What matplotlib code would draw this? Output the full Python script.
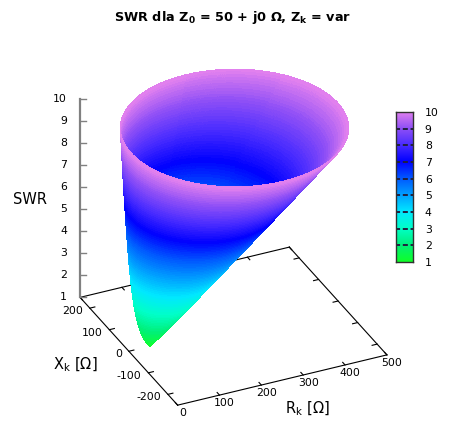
import numpy as np
import matplotlib
matplotlib.use("Agg")
import matplotlib.pyplot as plt
from matplotlib.colors import LinearSegmentedColormap
from mpl_toolkits.mplot3d import proj3d

plt.rcParams['font.family'] = ['DejaVu Sans']
plt.rcParams['mathtext.default'] = 'regular'

# line impedance and plotted SWR range
Z0 = 50.0
swr_min, swr_max = 1, 10

# axis ranges and ticks
r_lim = (0, 500)
x_lim = (-250, 250)
r_ticks = [0, 100, 200, 300, 400, 500]
x_ticks = [-200, -100, 0, 100, 200]
z_ticks = [1, 2, 3, 4, 5, 6, 7, 8, 9, 10]

cb_levels = [1, 2, 3, 4, 5, 6, 7, 8, 9, 10]
cb_colors = ["#10ff28", "#00f078", "#00ffc8", "#00e8ff", "#00a0ff",
             "#0058ff", "#0000ff", "#4a2cff", "#9050f6", "#e482ee"]

title = r"SWR dla $\mathbf{Z_0}$ = 50 + j0 Ω, $\mathbf{Z_k}$ = var"

cmap = LinearSegmentedColormap.from_list(
    "swr", [((v - swr_min) / (swr_max - swr_min), c) for v, c in zip(cb_levels, cb_colors)])

# surface: every SWR value is a circle in the Zk plane
s = np.linspace(swr_min, swr_max, 100)
phi = np.linspace(0, 2 * np.pi, 361)
S, PHI = np.meshgrid(s, phi)
g = (S - 1) / (S + 1)
centre = Z0 * (1 + g**2) / (1 - g**2)
radius = 2 * Z0 * g / (1 - g**2)
R = centre + radius * np.cos(PHI)
X = radius * np.sin(PHI)

W, H = 453, 434
fig = plt.figure(figsize=(W / 100, H / 100), dpi=100)
ax = fig.add_axes([0, 0, 1, 1], projection='3d', proj_type='ortho', computed_zorder=False)
ax.view_init(elev=31, azim=-115)
ax.set_box_aspect((1, 1, 1))
ax.set_xlim(*r_lim)
ax.set_ylim(*x_lim)
ax.set_zlim(swr_min, swr_max)
ax.set_axis_off()

# base frame, back edge goes under the surface
r0, r1 = r_lim
x0, x1 = x_lim
zb = swr_min
ax.plot([r0, r1], [x1, x1], [zb, zb], color='black', lw=0.8, zorder=1)
for t in r_ticks:
    ax.plot([t, t], [x1, x1 - 12], [zb, zb], color='black', lw=0.8, zorder=1)

ax.plot_surface(R, X, S, cmap=cmap, vmin=swr_min, vmax=swr_max, rstride=1, cstride=1,
                linewidth=0, antialiased=False, shade=False, zorder=2)

ax.plot([r0, r1], [x0, x0], [zb, zb], color='black', lw=0.8, zorder=3)
ax.plot([r0, r0], [x0, x1], [zb, zb], color='black', lw=0.8, zorder=3)
ax.plot([r1, r1], [x0, x1], [zb, zb], color='black', lw=0.8, zorder=3)
for t in r_ticks:
    ax.plot([t, t], [x0, x0 + 12], [zb, zb], color='black', lw=0.8, zorder=3)
for t in x_ticks:
    ax.plot([r0, r0 + 12], [t, t], [zb, zb], color='black', lw=0.8, zorder=3)
    ax.plot([r1, r1 - 12], [t, t], [zb, zb], color='black', lw=0.8, zorder=3)

# fit the projected box onto the reference corners
def to_px(r, x, z):
    xs, ys, _ = proj3d.proj_transform(r, x, z, ax.get_proj())
    return ax.transData.transform((xs, ys))

corners = [(r0, x0, zb), (r1, x0, zb), (r0, x1, zb), (r1, x1, zb), (r0, x1, swr_max)]
targets = np.array([(177, 405), (387, 355), (80, 297), (290, 247), (80, 100)], float)
targets[:, 1] = H - targets[:, 1]

fig.canvas.draw()
bb = ax.get_position()
o = np.array([bb.x0 * W, bb.y0 * H])
size = bb.width * W
p = np.array([to_px(*c) for c in corners])
pm, tm = p.mean(0), targets.mean(0)
k = np.sum((p - pm) * (targets - tm)) / np.sum((p - pm) ** 2)
o_new = tm - k * (pm - o)
ax.set_position([o_new[0] / W, o_new[1] / H, k * size / W, k * size / H])
fig.canvas.draw()

def px_text(r, x, z, dx, dy, txt, **kw):
    px, py = to_px(r, x, z)
    fig.text((px + dx) / W, (py - dy) / H, txt, fontsize=7.8, **kw)

# z axis at the left back corner, ticks drawn in screen space
za = to_px(r0, x1, zb)
zt = to_px(r0, x1, swr_max)
fig.add_artist(plt.Line2D([za[0] / W, zt[0] / W], [za[1] / H, zt[1] / H], color='#808080', lw=1.6))
for t in z_ticks:
    px, py = to_px(r0, x1, t)
    fig.add_artist(plt.Line2D([px / W, (px + 6) / W], [py / H, py / H], color='#808080', lw=1.0))
    fig.text((px - 13) / W, py / H, str(t), fontsize=7.8, ha='right', va='center')

for t in r_ticks:
    px_text(t, x0, zb, 5, 8, str(t), ha='center', va='center')
for t in x_ticks:
    px_text(r0, t, zb, -7, 3, str(t), ha='right', va='center')

fig.text(30 / W, 1 - 199 / H, "SWR", fontsize=10.5, ha='center', va='center')
fig.text(75 / W, 1 - 365 / H, r"X$_{k}$ [Ω]", fontsize=10.5, ha='center', va='center')
fig.text(307 / W, 1 - 409 / H, r"R$_{k}$ [Ω]", fontsize=10.5, ha='center', va='center')
fig.text(233 / W, 1 - 18 / H, title, fontsize=9.3, fontweight='bold', ha='center', va='center')

# colour box
cax = fig.add_axes([396 / W, 1 - 262 / H, 17 / W, 150 / H])
cax.imshow(np.linspace(swr_min, swr_max, 256)[:, None], aspect='auto', origin='lower',
           extent=(0, 1, swr_min, swr_max), cmap=cmap)
cax.hlines(cb_levels[1:-1], 0, 1, colors='#202040', lw=1.4, linestyles=(0.5, (2.6, 1.4)))
cax.set_xticks([])
cax.set_yticks(cb_levels)
cax.yaxis.tick_right()
cax.tick_params(axis='y', length=0, pad=8.5, labelsize=7.8)
for sp in cax.spines.values():
    sp.set_color('#303030')
    sp.set_linewidth(1.0)

fig.savefig("out.png", dpi=100)
